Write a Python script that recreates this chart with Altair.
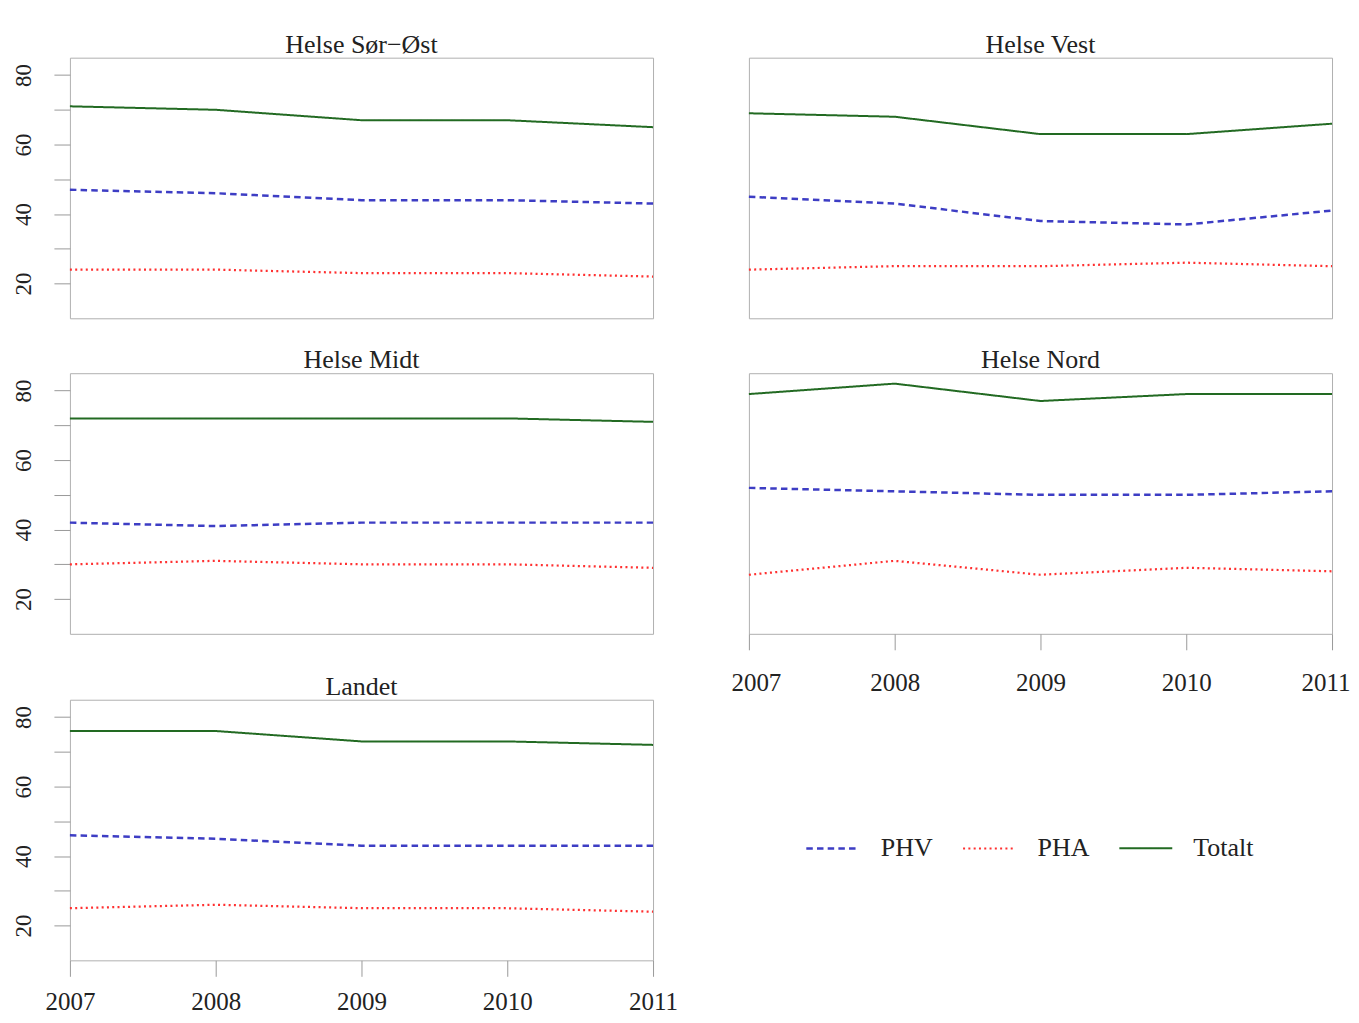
import altair as alt
import pandas as pd

years = [2007, 2008, 2009, 2010, 2011]
series = ["PHV", "PHA", "Totalt"]
regions = ["Helse Sør−Øst", "Helse Vest", "Helse Midt", "Helse Nord", "Landet"]

sor_ost_phv = [47, 46, 44, 44, 43]
sor_ost_pha = [24, 24, 23, 23, 22]
sor_ost_tot = [71, 70, 67, 67, 65]
vest_phv = [45, 43, 38, 37, 41]
vest_pha = [24, 25, 25, 26, 25]
vest_tot = [69, 68, 63, 63, 66]
midt_phv = [42, 41, 42, 42, 42]
midt_pha = [30, 31, 30, 30, 29]
midt_tot = [72, 72, 72, 72, 71]
nord_phv = [52, 51, 50, 50, 51]
nord_pha = [27, 31, 27, 29, 28]
nord_tot = [79, 82, 77, 79, 79]
landet_phv = [46, 45, 43, 43, 43]
landet_pha = [25, 26, 25, 25, 24]
landet_tot = [76, 76, 73, 73, 72]

values = {
    "Helse Sør−Øst": [sor_ost_phv, sor_ost_pha, sor_ost_tot],
    "Helse Vest": [vest_phv, vest_pha, vest_tot],
    "Helse Midt": [midt_phv, midt_pha, midt_tot],
    "Helse Nord": [nord_phv, nord_pha, nord_tot],
    "Landet": [landet_phv, landet_pha, landet_tot],
}

rows = []
for reg in regions:
    for s, vals in zip(series, values[reg]):
        for y, v in zip(years, vals):
            rows.append({"region": reg, "serie": s, "year": y, "value": v})
df = pd.DataFrame(rows)

FONT = "Liberation Serif"
W, H = 584, 261


def panel(name, xmode, show_y):
    if xmode == "flush":
        xaxis = alt.Axis(values=years, format="d", title=None, grid=False,
                         domain=False, ticks=True, tickSize=16, tickColor="#9a9a9a",
                         tickWidth=1, labelFont=FONT, labelFontSize=25,
                         labelColor="#222222", labelPadding=21, labelOverlap=False,
                         labelFlush=True, labelFlushOffset=18, labelBaseline="top")
    elif xmode == "center":
        xaxis = alt.Axis(values=years, format="d", title=None, grid=False,
                         domain=False, ticks=True, tickSize=16, tickColor="#9a9a9a",
                         tickWidth=1, labelFont=FONT, labelFontSize=25,
                         labelColor="#222222", labelPadding=13, labelOverlap=False,
                         labelFlush=False, labelBaseline="top")
    else:
        xaxis = None
    if show_y:
        yaxis = alt.Axis(values=[20, 30, 40, 50, 60, 70, 80], title=None, grid=False,
                         domain=False, ticks=True, tickSize=16, tickColor="#9a9a9a",
                         tickWidth=1, labelFont=FONT, labelFontSize=23,
                         labelColor="#222222", labelAngle=270, labelAlign="center",
                         labelBaseline="alphabetic", labelPadding=23,
                         labelOverlap=False, labelFlush=False,
                         labelExpr="datum.value % 20 == 0 ? datum.label : ''")
    else:
        yaxis = None
    return (
        alt.Chart(df)
        .transform_filter(alt.datum.region == name)
        .mark_line(strokeCap="butt")
        .encode(
            x=alt.X("year:Q", scale=alt.Scale(domain=[2007, 2011], nice=False, zero=False),
                    axis=xaxis),
            y=alt.Y("value:Q", scale=alt.Scale(domain=[10, 85], nice=False, zero=False),
                    axis=yaxis),
            color=alt.Color("serie:N",
                            scale=alt.Scale(domain=series,
                                            range=["#3d3dc4", "#ff3030", "#226a22"]),
                            legend=alt.Legend(title=None)),
            strokeDash=alt.StrokeDash("serie:N",
                                      scale=alt.Scale(domain=series,
                                                      range=[[6.5, 4.2], [2, 3.3], [1, 0]]),
                                      legend=alt.Legend(title=None)),
            strokeWidth=alt.StrokeWidth("serie:N",
                                        scale=alt.Scale(domain=series, range=[2.5, 2.0, 2.5]),
                                        legend=None),
        )
        .properties(width=W, height=H,
                    title=alt.TitleParams(name, font=FONT, fontSize=26, fontWeight="normal",
                                          color="#222222", anchor="middle",
                                          baseline="alphabetic", offset=-21))
    )


p1 = panel("Helse Sør−Øst", None, True)
p2 = panel("Helse Vest", None, False)
p3 = panel("Helse Midt", None, True)
p4 = panel("Helse Nord", "flush", False)
p5 = panel("Landet", "center", True)

col1 = alt.vconcat(p1, alt.vconcat(p3, p5, spacing=38), spacing=27)
col2 = alt.vconcat(p2, p4, spacing=27)

chart = (
    alt.hconcat(col1, col2, spacing=51)
    .properties(padding={"left": 4, "top": 22, "right": 0, "bottom": 0})
    .configure_view(stroke="#b0b0b0", strokeWidth=1)
    .configure_legend(orient="none", legendX=736, legendY=764, direction="horizontal",
                      symbolType="stroke", symbolSize=2809, symbolStrokeWidth=2.5,
                      labelFont=FONT, labelFontSize=26, labelColor="#222222",
                      labelOffset=20, columnPadding=25, labelLimit=200)
)

chart.save("out.html", embed_options={"renderer": "svg", "actions": False})
